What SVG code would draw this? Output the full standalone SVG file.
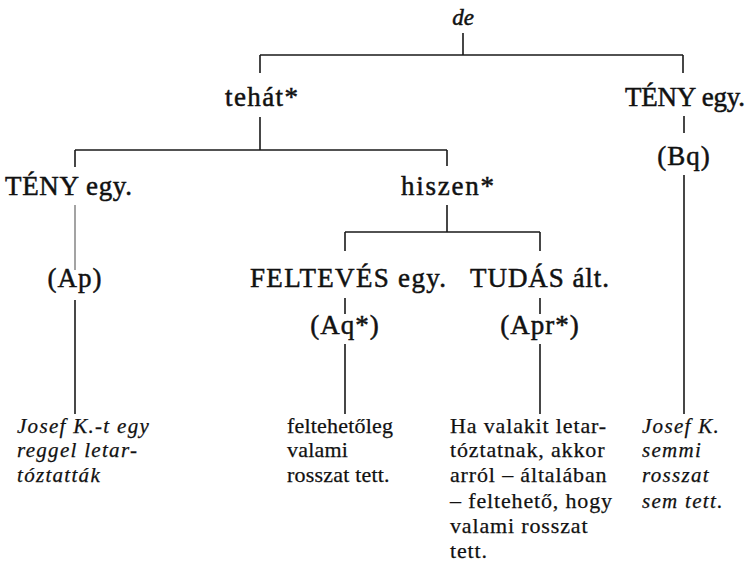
<svg xmlns="http://www.w3.org/2000/svg" width="750" height="568" viewBox="0 0 750 568">
  <style>
    .bg { fill: #ffffff; }
    text { font-family: "Liberation Serif", "Times New Roman", serif; fill: #111; stroke: #111; stroke-width: 0.35; }
    .lbl { font-size: 27px; text-anchor: start; stroke-width: 0.5; }
    .par { font-size: 27px; text-anchor: middle; letter-spacing: 1px; stroke-width: 0.5; }
    .top { font-size: 23px; font-style: italic; text-anchor: middle; stroke-width: 0.5; }
    .body { font-size: 22px; letter-spacing: 0.4px; stroke-width: 0.25; }
    .wide { letter-spacing: 0.85px; }
    .narrow { letter-spacing: 0.2px; }
    .it { font-size: 21px; font-style: italic; letter-spacing: 1.3px; }
    .edge { stroke: #1a1a1a; stroke-width: 1.6; fill: none; }
    .faint { stroke: #666; stroke-width: 1.2; }
  </style>
  <rect class="bg" x="0" y="0" width="750" height="568"/>

  <g id="connectors">
    <!-- de -> tehát* / TÉNY egy. -->
    <path class="edge" d="M463,33 V55 M260,55 H683 M260,55 V73 M683,55 V73"/>
    <!-- tehát* -> TÉNY egy. / hiszen* -->
    <path class="edge" d="M260,117 V150 M75,150 H447 M75,150 V167 M447,150 V166"/>
    <!-- hiszen* -> FELTEVÉS egy. / TUDÁS ált. -->
    <path class="edge" d="M447,205 V232 M345,232 H540 M345,232 V251 M540,232 V251"/>
    <!-- left branch -->
    <path class="edge faint" d="M75,205 V270"/>
    <path class="edge" d="M75,300 V414"/>
    <!-- FELTEVÉS branch -->
    <path class="edge" d="M345,298 V314 M345,344 V414"/>
    <!-- TUDÁS branch -->
    <path class="edge" d="M540,298 V314 M540,344 V414"/>
    <!-- right branch -->
    <path class="edge" d="M684,116 V133 M684,175 V414"/>
  </g>

  <g id="n-de"><text class="top" x="463" y="25">de</text></g>
  <g id="n-tehat"><text class="lbl" x="225" y="106" textLength="73" lengthAdjust="spacing">tehát*</text></g>
  <g id="n-teny-right"><text class="lbl" x="625" y="106" textLength="120" lengthAdjust="spacing">TÉNY egy.</text></g>
  <g id="n-bq"><text class="par" x="684" y="165">(Bq)</text></g>
  <g id="n-teny-left"><text class="lbl" x="5" y="195" textLength="127" lengthAdjust="spacing">TÉNY egy.</text></g>
  <g id="n-hiszen"><text class="lbl" x="401" y="195" textLength="93" lengthAdjust="spacing">hiszen*</text></g>
  <g id="n-ap"><text class="par" x="75" y="287">(Ap)</text></g>
  <g id="n-felteves"><text class="lbl" x="250" y="287" textLength="196" lengthAdjust="spacing">FELTEVÉS egy.</text></g>
  <g id="n-tudas"><text class="lbl" x="470" y="287" textLength="139" lengthAdjust="spacing">TUDÁS ált.</text></g>
  <g id="n-aq"><text class="par" x="345" y="334">(Aq*)</text></g>
  <g id="n-apr"><text class="par" x="540" y="334">(Apr*)</text></g>

  <g id="n-josef-arrest">
    <text class="body it" x="17" y="433">
      <tspan x="17" y="433">Josef K.-t egy</tspan>
      <tspan x="17" y="457">reggel letar-</tspan>
      <tspan x="17" y="482">tóztatták</tspan>
    </text>
  </g>
  <g id="n-feltehetoleg">
    <text class="body narrow" x="287" y="433">
      <tspan x="287" y="433">feltehetőleg</tspan>
      <tspan x="287" y="457">valami</tspan>
      <tspan x="287" y="482">rosszat tett.</tspan>
    </text>
  </g>
  <g id="n-ha-valakit">
    <text class="body wide" x="450" y="433">
      <tspan x="450" y="433">Ha valakit letar-</tspan>
      <tspan x="450" y="457">tóztatnak, akkor</tspan>
      <tspan x="450" y="482">arról – általában</tspan>
      <tspan x="450" y="508">– feltehető, hogy</tspan>
      <tspan x="450" y="533">valami rosszat</tspan>
      <tspan x="450" y="558">tett.</tspan>
    </text>
  </g>
  <g id="n-josef-semmi">
    <text class="body it" x="642" y="433">
      <tspan x="642" y="433">Josef K.</tspan>
      <tspan x="642" y="457">semmi</tspan>
      <tspan x="642" y="482">rosszat</tspan>
      <tspan x="642" y="508">sem tett.</tspan>
    </text>
  </g>
</svg>
